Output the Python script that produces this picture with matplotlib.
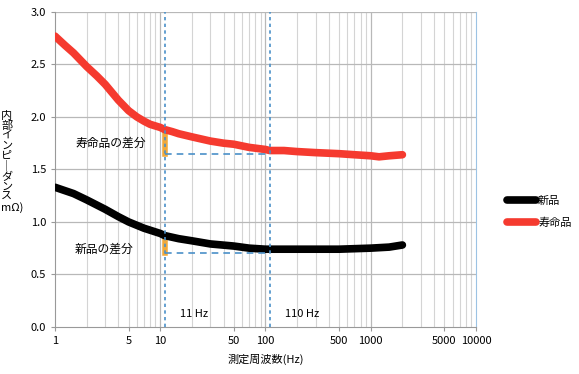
import matplotlib.pyplot as plt
import numpy as np

plt.rcParams["font.family"] = ["Noto Sans CJK JP", "DejaVu Sans"]

freq_new = [1, 1.5, 2, 3, 4, 5, 7, 10, 11, 15, 20, 30, 50, 70, 100, 200, 500, 1000, 1500, 2000]
new_item = [1.33, 1.27, 1.21, 1.12, 1.05, 1.00, 0.94, 0.89, 0.87, 0.84, 0.82, 0.79, 0.77, 0.75, 0.74, 0.74, 0.74, 0.75, 0.76, 0.78]
freq_eol = [1, 1.25, 1.5, 2, 2.5, 3, 4, 5, 6, 7, 8, 10, 11, 13, 15, 20, 30, 40, 50, 70,
            100, 110, 150, 200, 300, 500, 700, 1000, 1200, 1500, 2000]
end_of_life = [2.77, 2.68, 2.61, 2.48, 2.39, 2.31, 2.16, 2.06, 2.00, 1.96, 1.93, 1.90, 1.88, 1.86, 1.84,
               1.81, 1.77, 1.75, 1.74, 1.71, 1.69, 1.68, 1.68, 1.67, 1.66, 1.65, 1.64, 1.63, 1.62, 1.63, 1.64]

marker_freqs = [11, 110]
marker_labels = ["11 Hz", "110 Hz"]
diff_new = (0.70, 0.87)
diff_eol = (1.65, 1.88)
xticks = [1, 5, 10, 50, 100, 500, 1000, 5000, 10000]
yticks = [0.0, 0.5, 1.0, 1.5, 2.0, 2.5, 3.0]

fig = plt.figure(figsize=[5.79, 3.74], dpi=100)
ax = fig.add_axes([0.095, 0.126, 0.727, 0.842])

ax.set_xscale("log")
ax.set_xlim(1, 10000)
ax.set_ylim(0, 3.0)

# grid
for d in [1, 10, 100, 1000]:
    for m in range(2, 10):
        ax.axvline(d * m, color="#d4d4d4", lw=0.8, zorder=0)
for v in [10, 100, 1000]:
    ax.axvline(v, color="#b8b8b8", lw=0.9, zorder=0)
for v in yticks[1:]:
    ax.axhline(v, color="#b8b8b8", lw=0.9, zorder=0)

ax.plot(freq_new, new_item, color="black", lw=5.5, solid_capstyle="round",
        solid_joinstyle="round", label="新品", zorder=3)
ax.plot(freq_eol, end_of_life, color="#f53a2f", lw=5.5, solid_capstyle="round",
        solid_joinstyle="round", label="寿命品", zorder=3)

# difference markers
for lo, hi in [diff_new, diff_eol]:
    ax.plot([11, 11], [lo, hi], color="#f2a93b", lw=4, zorder=2)
    ax.plot(marker_freqs, [lo, lo], color="#4a90c8", lw=1.2, ls=(0, (4, 3)), zorder=4)
for f, lab in zip(marker_freqs, marker_labels):
    ax.axvline(f, color="#4a90c8", lw=1.2, ls=(0, (2, 2)), zorder=4)
    ax.text(f * 1.4, 0.12, lab, fontsize=8, ha="left", va="center")

ax.text(1.55, 1.75, "寿命品の差分", fontsize=8.5, va="center")
ax.text(1.55, 0.74, "新品の差分", fontsize=8.5, va="center")

ax.set_xticks(xticks)
ax.set_xticklabels([str(x) for x in xticks], fontsize=8)
ax.xaxis.set_minor_locator(plt.NullLocator())
ax.set_yticks(yticks)
ax.set_yticklabels([f"{v:.1f}" for v in yticks], fontsize=8)
ax.tick_params(axis="both", length=3, color="#999999")
ax.spines[["top"]].set_visible(False)
ax.spines["right"].set_color("#9cc3e4")
ax.spines["left"].set_color("#999999")
ax.spines["bottom"].set_color("#999999")

ax.set_xlabel("測定周波数(Hz)", fontsize=8, labelpad=6)
fig.text(0.002, 0.567, "内\n部\nイ\nン\nピ\n｜\nダ\nン\nス\nmΩ)", fontsize=8,
         ha="left", va="center", linespacing=1.0)

ax.legend(loc="center left", bbox_to_anchor=(1.05, 0.365), frameon=False, fontsize=8,
          handlelength=2.6, handletextpad=0.2, labelspacing=1.0)

fig.savefig("out.png", dpi=100)
plt.close(fig)
